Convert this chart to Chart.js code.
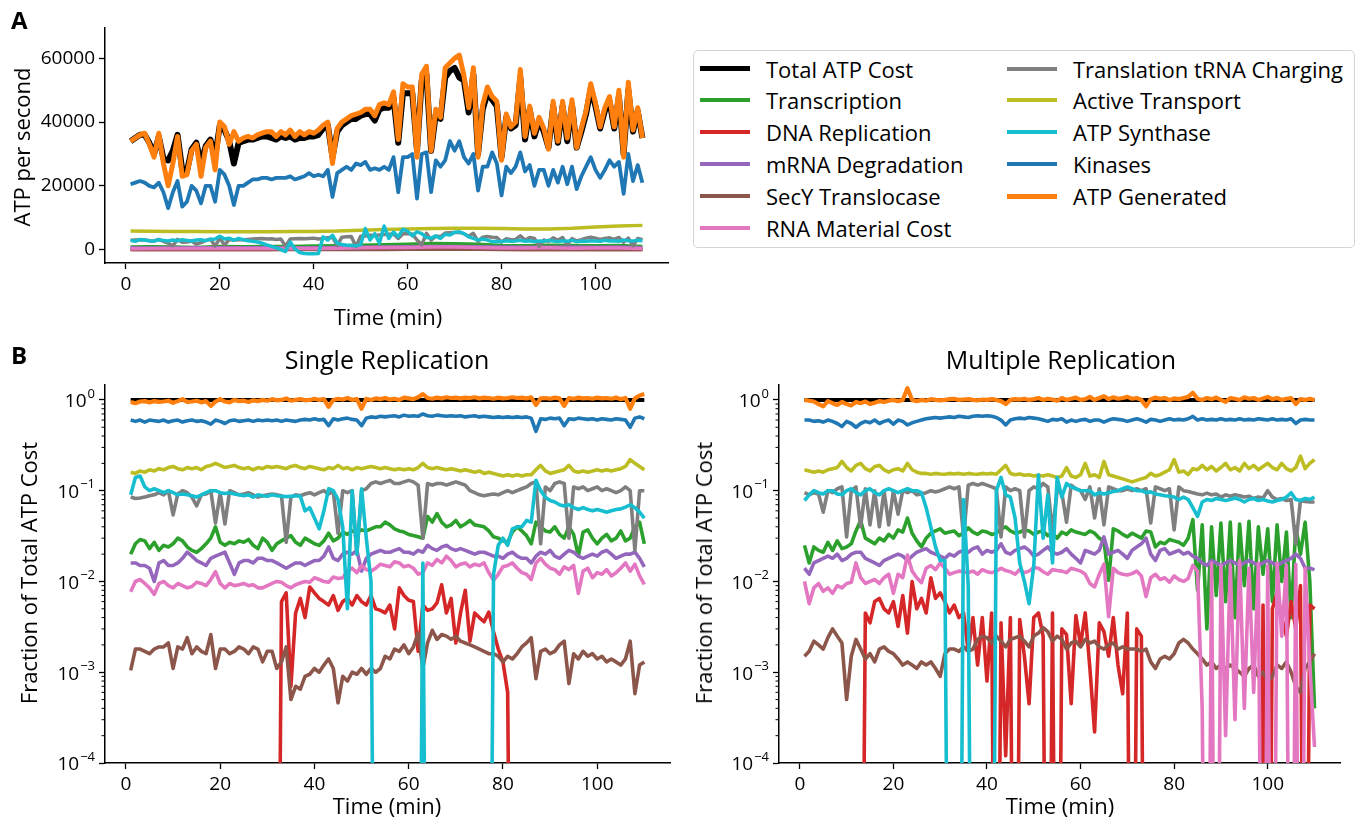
<!DOCTYPE html>
<html>
<head>
<meta charset="utf-8">
<title>ATP budget over the cell cycle</title>
<script src="https://cdn.jsdelivr.net/npm/chart.js@4.4.1/dist/chart.umd.min.js"></script>
<style>
  body { margin: 0; background: #fff; font-family: "Open Sans", sans-serif; color: #000; }
  #page { position: relative; width: 1360px; height: 833px; overflow: hidden; }
  canvas { position: absolute; }
  .txt { position: absolute; white-space: nowrap; transform: translate(-50%, -50%); font-size: 22px; }
  .vert { transform: translate(-50%, -50%) rotate(-90deg); }
  .title { font-size: 25px; }
  .panel { position: absolute; font-weight: bold; font-size: 24px; line-height: 1; }
  #legend { position: absolute; left: 693px; top: 50px; width: 662px; height: 198px;
            box-sizing: border-box; border: 1.5px solid #d4d4d4; border-radius: 5px; }
  .item { position: absolute; height: 32px; display: flex; align-items: center; font-size: 22px; white-space: nowrap; }
  .swatch { width: 50px; margin-right: 16px; }
</style>
</head>
<body>
<div id="page">
  <canvas id="chartA" width="680" height="330" style="left:0;top:0"></canvas>
  <canvas id="chartSingle" width="680" height="503" style="left:0;top:330px"></canvas>
  <canvas id="chartMultiple" width="680" height="503" style="left:680px;top:330px"></canvas>

  <div class="panel" style="left:11px;top:8px">A</div>
  <div class="panel" style="left:11px;top:343px">B</div>
  <div class="txt vert" style="left:21px;top:147px">ATP per second</div>
  <div class="txt" style="left:388px;top:316px">Time (min)</div>
  <div class="txt title" style="left:387px;top:359px">Single Replication</div>
  <div class="txt title" style="left:1061px;top:359px">Multiple Replication</div>
  <div class="txt vert" style="left:28px;top:573px">Fraction of Total ATP Cost</div>
  <div class="txt vert" style="left:703px;top:573px">Fraction of Total ATP Cost</div>
  <div class="txt" style="left:387px;top:805px">Time (min)</div>
  <div class="txt" style="left:1060px;top:805px">Time (min)</div>
  <div id="legend"></div>
</div>
<script>
// ---- series names and colours (legend order, last one drawn on top) ----
const categories = ['Total ATP Cost', 'Transcription', 'DNA Replication', 'mRNA Degradation',
  'SecY Translocase', 'RNA Material Cost', 'Translation tRNA Charging', 'Active Transport',
  'ATP Synthase', 'Kinases', 'ATP Generated'];
const colors = ['#000000', '#2ca02c', '#d62728', '#9467bd', '#8c564b', '#e377c2',
  '#7f7f7f', '#bcbd22', '#17becf', '#1f77b4', '#ff7f0e'];

// ---- tick positions ----
const timeTicks = [0, 20, 40, 60, 80, 100];
const atpTicks = [0, 20000, 40000, 60000];
const decadeTicks = [1e-4, 1e-3, 1e-2, 1e-1, 1];

// ---- time axes (min) ----
const timeA = Array.from({ length: 110 }, (_, i) => i + 1);
const timeACoarse = [1, 5, 10, 15, 20, 25, 30, 35, 40, 45, 50, 55, 60, 65, 70, 75, 80, 85, 90, 95, 100, 105, 110];
const timeB = timeA;
const timeEnds = [1, 110];

// ---- A: ATP per second ----
const aTotal = [
  34000, 35000, 36000, 36000, 33500, 30000, 35500, 28500, 28000, 31000,
  36000, 25000, 24500, 31500, 33500, 27000, 32500, 34500, 29000, 39000,
  37500, 34000, 27000, 33500, 34000, 34500, 34500, 35000, 35500, 35500,
  35000, 34500, 35500, 35000, 35500, 34500, 35000, 35000, 35500, 35500,
  36000, 38000, 39000, 29000, 37000, 39000, 40000, 41000, 41000, 42000,
  42500, 42500, 40500, 44000, 44500, 44500, 47500, 33500, 49000, 49000,
  49000, 31000, 53000, 55000, 31000, 42500, 41000, 54000, 56000, 57000,
  54000, 53000, 43000, 55000, 30000, 44000, 49000, 47000, 45000, 29000,
  41500, 38000, 39000, 54000, 34500, 44000, 35500, 40500, 37000, 32000,
  45000, 33500, 45000, 34000, 45500, 32000, 37000, 42500, 50500, 45000,
  38000, 43500, 46500, 38000, 48000, 30000, 50000, 37000, 43500, 35000];
const aGenerated = [
  34000, 35000, 36000, 36500, 33000, 29000, 36500, 27000, 20000, 27000,
  35500, 23000, 23500, 31000, 33000, 23000, 32000, 34000, 25000, 40000,
  38500, 33000, 37000, 34000, 35000, 35500, 35000, 36000, 36500, 37000,
  37000, 35500, 37000, 36000, 37500, 35500, 37000, 36000, 37000, 36500,
  37500, 39000, 40000, 27000, 38000, 40000, 41000, 42000, 42500, 43000,
  44000, 44000, 42000, 45500, 46000, 45500, 49500, 34500, 52000, 51000,
  51000, 29000, 55000, 57500, 31000, 44000, 41500, 57000, 58500, 60000,
  61000, 54500, 44500, 57000, 29000, 45500, 51000, 48000, 46500, 28000,
  42500, 38500, 40000, 56500, 35500, 45000, 36500, 41500, 38000, 31500,
  46500, 34000, 46500, 35000, 47000, 32000, 38000, 43500, 52000, 46000,
  38500, 44500, 48000, 38500, 50000, 29000, 52500, 37500, 44500, 35000];
const aKinases = [
  20500, 21000, 21500, 21000, 20000, 19500, 21000, 18000, 13000, 18000,
  21500, 13500, 15000, 20000, 18500, 14500, 20000, 20000, 15000, 25000,
  23500, 20000, 14000, 20000, 20000, 21000, 22000, 22000, 22500, 22500,
  22000, 22500, 22500, 22500, 23000, 22000, 22500, 23000, 24000, 23000,
  23500, 23000, 25000, 16500, 24000, 25000, 26000, 25000, 27000, 26500,
  27500, 25000, 25500, 25000, 26000, 25000, 29000, 18000, 29000, 29000,
  30000, 16000, 30000, 30500, 18000, 28000, 26000, 28000, 34000, 31000,
  34000, 29000, 27000, 30000, 18500, 26000, 26000, 30500, 27000, 17000,
  26000, 24000, 26000, 30500, 24500, 26500, 20000, 25000, 25000, 20000,
  25000, 21000, 26000, 20500, 26000, 19000, 23000, 26000, 29000, 25000,
  22500, 25000, 28000, 26000, 27500, 17500, 30000, 21500, 26500, 21000];
const aSynthase = [
  2900, 2600, 3200, 3000, 2800, 2700, 3100, 2900, 2700, 3000,
  2800, 3100, 2900, 2700, 3000, 3100, 2800, 3200, 3300, 4200,
  3300, 3600, 2900, 3500, 3100, 2800, 2600, 2400, 2000, 1500,
  1000, 600, 0, -600, 2400, 200, -900, -1200, -1300, -1300,
  -1200, 4000, 3000, 4500, 2000, 1600, 1400, 1300, 1200, 1500,
  6600, 3000, 5000, 2000, 7400, 3500, 5500, 4000, 6400, 5800,
  4300, 5600, 5000, 3800, 3600, 4300, 3500, 4800, 4600, 5400,
  5600, 5000, 4000, 3500, 3000, 3300, 3000, 2500, 2600, 2500,
  2800, 2600, 2700, 2900, 2600, 2800, 2500, 2700, 2600, 2900,
  2700, 2500, 2800, 2600, 2900, 2500, 2700, 2600, 2800, 2700,
  2600, 2900, 2700, 2800, 2600, 3000, 2800, 2700, 2900, 2800];
const aTranslation = [
  2900, 3000, 3100, 3000, 2800, 2700, 3200, 2600, 2000, 1200,
  3200, 2300, 2400, 2700, 1700, 2200, 2900, 3300, 1100, 3600,
  1400, 3200, 3000, 3100, 3100, 3200, 3300, 3400, 3500, 3300,
  3400, 3200, 3300, 1100, 3300, 3400, 3500, 3400, 3500, 3600,
  3300, 3500, 3700, 3900, 1300, 3900, 4000, 4100, 1000, 4200,
  4300, 4500, 4400, 4600, 4700, 4800, 4900, 3500, 5000, 5000,
  4900, 3000, 1500, 5100, 3000, 4200, 4100, 5200, 5300, 5400,
  5400, 5000, 4200, 5100, 2600, 3900, 4100, 3900, 3800, 2400,
  3400, 3100, 3200, 4300, 3000, 3800, 3500, 1000, 3000, 2600,
  3700, 2900, 3800, 1500, 3500, 2700, 3100, 3600, 3900, 3600,
  3200, 3500, 3700, 3200, 3800, 2300, 3600, 1200, 3500, 3100];
const aTransport = [5800, 5750, 5700, 5650, 5600, 5600, 5600, 5650, 5700, 5800, 6100, 6300,
  6500, 6600, 6700, 6700, 6600, 6500, 6500, 6700, 7100, 7400, 7600];
const aTranscription = [800, 900, 800, 700, 1000, 900, 950, 1000, 1100, 1200, 1400, 1500,
  1700, 1900, 1800, 1700, 1300, 1200, 1400, 1300, 1200, 1300, 1000];
const aReplication = [0, 0, 0, 0, 0, 0, 0, 150, 250, 200, 250, 200, 250, 250, 250, 200, 80,
  0, 0, 0, 0, 0, 0];
const aDegradation = [550, 500, 500, 550, 600, 550, 550, 600, 600, 650, 750, 850, 900, 950,
  1000, 900, 800, 750, 750, 800, 750, 800, 550];
const aSecY = [35, 60, 60, 60, 55, 60, 50, 50, 35, 30, 40, 60, 90, 100, 110, 90, 60, 55, 50,
  55, 60, 55, 45];
const aRnaMaterial = [260, 330, 330, 330, 350, 330, 330, 340, 380, 400, 550, 650, 700, 800,
  800, 700, 500, 500, 550, 450, 500, 500, 350];

// ---- B: fraction of total ATP cost, single replication ----
const fracTotal = [1, 1];
const sGenerated = [
  0.95, 0.92, 0.96, 0.97, 0.94, 0.97, 0.95, 0.96, 0.98, 0.93,
  0.97, 1.02, 0.95, 0.96, 0.98, 0.94, 0.97, 0.86, 0.96, 1.02,
  0.96, 0.94, 1.0, 0.97, 0.98, 0.95, 0.99, 0.97, 1.0, 0.98,
  1.02, 0.99, 1.0, 1.04, 0.98, 1.0, 1.02, 0.99, 1.0, 1.03,
  1.0, 1.02, 0.84, 1.0, 1.03, 1.01, 1.05, 1.0, 1.02, 0.8,
  1.03, 1.0, 1.04, 1.02, 1.05, 1.01, 1.03, 1.0, 1.06, 1.04,
  1.02, 1.07, 1.16, 1.05, 1.03, 1.06, 1.04, 1.07, 1.05, 1.06,
  1.04, 1.06, 1.05, 1.07, 1.04, 1.06, 1.05, 1.03, 1.06, 1.04,
  1.05, 1.07, 1.05, 1.06, 1.04, 1.07, 0.88, 1.04, 1.05, 1.03,
  1.06, 1.04, 0.86, 1.05, 1.03, 1.06, 1.04, 1.05, 1.03, 1.06,
  1.04, 1.05, 1.03, 1.06, 1.02, 1.05, 0.8, 1.04, 1.12, 1.16];
const sKinases = [
  0.6, 0.58, 0.6, 0.57, 0.6, 0.59, 0.58, 0.6, 0.57, 0.59,
  0.6, 0.57, 0.59, 0.6, 0.58, 0.59, 0.57, 0.54, 0.6, 0.58,
  0.55, 0.59, 0.6, 0.58, 0.59, 0.6, 0.58, 0.6, 0.59, 0.6,
  0.59, 0.6, 0.58, 0.6, 0.59, 0.58, 0.6, 0.61, 0.6, 0.62,
  0.6, 0.61, 0.52, 0.62, 0.6, 0.62, 0.63, 0.61, 0.6, 0.52,
  0.63, 0.65, 0.64, 0.66, 0.65, 0.66, 0.67, 0.65, 0.68, 0.66,
  0.67, 0.66, 0.7, 0.67, 0.66, 0.68, 0.67, 0.66, 0.67, 0.66,
  0.67, 0.65, 0.66, 0.67, 0.65, 0.66, 0.65, 0.64, 0.65, 0.64,
  0.65, 0.64, 0.65, 0.64, 0.65, 0.63, 0.45, 0.62, 0.61, 0.63,
  0.62, 0.63, 0.52, 0.62, 0.61, 0.63, 0.62, 0.61, 0.62, 0.6,
  0.62, 0.61, 0.6, 0.62, 0.61, 0.6, 0.5, 0.63, 0.65, 0.62];
const sTransport = [
  0.16, 0.155, 0.165, 0.16, 0.17, 0.165, 0.175, 0.17, 0.18, 0.185,
  0.175, 0.17, 0.18, 0.175, 0.18, 0.17, 0.185, 0.19, 0.2, 0.19,
  0.18, 0.185, 0.19, 0.18, 0.175, 0.18, 0.17, 0.18, 0.175, 0.185,
  0.18, 0.185, 0.18, 0.175, 0.185, 0.19, 0.18, 0.175, 0.185, 0.18,
  0.175, 0.17, 0.18, 0.175, 0.19, 0.175, 0.18, 0.17, 0.18, 0.175,
  0.18, 0.185, 0.18, 0.175, 0.18, 0.175, 0.17, 0.175, 0.17, 0.175,
  0.17, 0.18, 0.2, 0.18, 0.175, 0.18, 0.175, 0.17, 0.175, 0.17,
  0.165, 0.17, 0.165, 0.16, 0.165, 0.155, 0.16, 0.155, 0.15, 0.145,
  0.15, 0.145, 0.15, 0.145, 0.15, 0.15, 0.17, 0.19, 0.165, 0.155,
  0.16, 0.165, 0.17, 0.19, 0.165, 0.16, 0.165, 0.16, 0.165, 0.17,
  0.165, 0.17, 0.165, 0.17, 0.175, 0.185, 0.22, 0.2, 0.185, 0.17];
const sTranslation = [
  0.085, 0.082, 0.083, 0.085, 0.088, 0.09, 0.095, 0.09, 0.1, 0.054,
  0.092, 0.1, 0.095, 0.085, 0.068, 0.09, 0.092, 0.1, 0.044, 0.095,
  0.043, 0.1, 0.095, 0.09, 0.092, 0.095, 0.09, 0.085, 0.088, 0.09,
  0.092, 0.09, 0.088, 0.027, 0.085, 0.09, 0.088, 0.092, 0.095, 0.09,
  0.095, 0.1, 0.092, 0.098, 0.034, 0.1, 0.095, 0.1, 0.02, 0.1,
  0.105, 0.12, 0.125, 0.12, 0.125, 0.13, 0.12, 0.12, 0.125, 0.13,
  0.125, 0.115, 0.03, 0.12, 0.115, 0.12, 0.12, 0.115, 0.12, 0.125,
  0.12, 0.115, 0.1, 0.095, 0.09, 0.088, 0.09, 0.092, 0.09, 0.095,
  0.1, 0.095, 0.1, 0.105, 0.11, 0.12, 0.125, 0.026, 0.11, 0.1,
  0.12, 0.125, 0.12, 0.03, 0.11, 0.105, 0.11, 0.1, 0.105, 0.11,
  0.1, 0.105, 0.1, 0.095, 0.1, 0.11, 0.1, 0.022, 0.1, 0.1];
const sSynthase = [
  0.09, 0.14, 0.145, 0.11, 0.1, 0.105, 0.1, 0.095, 0.1, 0.095,
  0.09, 0.092, 0.09, 0.088, 0.085, 0.09, 0.095, 0.1, 0.1, 0.095,
  0.093, 0.095, 0.092, 0.09, 0.088, 0.09, 0.085, 0.09, 0.088, 0.087,
  0.09, 0.088, 0.087, 0.086, 0.087, 0.088, 0.087, 0.06, 0.065, 0.05,
  0.038, 0.06, 0.105, 0.1, 0.08, 0.04, 0.005, 0.1, 0.02, 0.105,
  0.03, 0.01, 0, 0, 0, 0, 0, 0, 0, 0,
  0, 0, 0.016, 0, 0, 0, 0, 0, 0, 0,
  0, 0, 0, 0, 0, 0, 0, 0.012, 0.025, 0.03,
  0.025, 0.038, 0.04, 0.04, 0.047, 0.045, 0.13, 0.1, 0.085, 0.078,
  0.075, 0.07, 0.068, 0.07, 0.065, 0.062, 0.065, 0.062, 0.06, 0.062,
  0.06, 0.058, 0.06, 0.062, 0.063, 0.066, 0.07, 0.065, 0.058, 0.05];
const sTranscription = [
  0.02, 0.026, 0.029, 0.028, 0.023, 0.027, 0.022, 0.025, 0.024, 0.026,
  0.03, 0.028, 0.024, 0.022, 0.021, 0.023, 0.026, 0.03, 0.04, 0.027,
  0.025, 0.027, 0.026, 0.028, 0.027, 0.029, 0.025, 0.023, 0.03, 0.027,
  0.022, 0.026, 0.028, 0.03, 0.032, 0.027, 0.025, 0.03, 0.028, 0.026,
  0.025, 0.028, 0.034, 0.028, 0.03, 0.035, 0.033, 0.036, 0.035, 0.037,
  0.036, 0.038, 0.04, 0.04, 0.045, 0.042, 0.038, 0.036, 0.035, 0.033,
  0.032, 0.031, 0.03, 0.052, 0.045, 0.056, 0.045, 0.04, 0.042, 0.047,
  0.04, 0.043, 0.047, 0.042, 0.041, 0.04, 0.036, 0.031, 0.03, 0.028,
  0.027, 0.035, 0.04, 0.036, 0.032, 0.026, 0.045, 0.04, 0.036, 0.035,
  0.04, 0.033, 0.03, 0.04, 0.033, 0.019, 0.035, 0.037, 0.03, 0.026,
  0.03, 0.033, 0.028, 0.03, 0.036, 0.028, 0.03, 0.04, 0.045, 0.026];
const sDegradation = [
  0.016, 0.016, 0.015, 0.015, 0.014, 0.01, 0.016, 0.017, 0.015, 0.015,
  0.016, 0.018, 0.021, 0.019, 0.017, 0.016, 0.015, 0.018, 0.019, 0.02,
  0.021, 0.016, 0.012, 0.016, 0.017, 0.017, 0.016, 0.018, 0.018, 0.017,
  0.017, 0.016, 0.015, 0.014, 0.015, 0.016, 0.016, 0.015, 0.016, 0.017,
  0.017, 0.019, 0.024, 0.018, 0.017, 0.02, 0.021, 0.02, 0.022, 0.013,
  0.018, 0.02, 0.021, 0.022, 0.021, 0.021, 0.022, 0.023, 0.021, 0.021,
  0.02, 0.022, 0.021, 0.025, 0.023, 0.022, 0.024, 0.025, 0.023, 0.022,
  0.023, 0.022, 0.021, 0.02, 0.021, 0.021, 0.02, 0.019, 0.019, 0.018,
  0.02, 0.021, 0.019, 0.018, 0.018, 0.016, 0.019, 0.021, 0.02, 0.022,
  0.019, 0.018, 0.02, 0.022, 0.021, 0.019, 0.018, 0.019, 0.02, 0.019,
  0.021, 0.022, 0.02, 0.018, 0.019, 0.02, 0.02, 0.021, 0.018, 0.0145];
const sRnaMaterial = [
  0.0077, 0.01, 0.0105, 0.0095, 0.0085, 0.0072, 0.0095, 0.01, 0.009, 0.0085,
  0.0095, 0.009, 0.0085, 0.0088, 0.0098, 0.0095, 0.009, 0.0105, 0.0128, 0.0095,
  0.0085, 0.0095, 0.009, 0.0092, 0.0095, 0.009, 0.0092, 0.0085, 0.0085, 0.009,
  0.0095, 0.01, 0.0098, 0.009, 0.0085, 0.0092, 0.0096, 0.01, 0.0098, 0.011,
  0.0105, 0.01, 0.0098, 0.0112, 0.0108, 0.011, 0.013, 0.014, 0.0125, 0.015,
  0.0135, 0.013, 0.014, 0.0155, 0.015, 0.0145, 0.0165, 0.016, 0.0145, 0.015,
  0.014, 0.012, 0.0125, 0.016, 0.015, 0.0175, 0.016, 0.019, 0.017, 0.0145,
  0.0155, 0.016, 0.0145, 0.0155, 0.015, 0.016, 0.0125, 0.0103, 0.012, 0.0145,
  0.015, 0.016, 0.014, 0.0125, 0.012, 0.0105, 0.016, 0.018, 0.0155, 0.014,
  0.0135, 0.012, 0.0145, 0.0135, 0.015, 0.0074, 0.013, 0.014, 0.011, 0.0125,
  0.012, 0.0135, 0.0115, 0.0125, 0.014, 0.016, 0.013, 0.0155, 0.0115, 0.0093];
const sReplication = [
  0, 0, 0, 0, 0, 0, 0, 0, 0, 0,
  0, 0, 0, 0, 0, 0, 0, 0, 0, 0,
  0, 0, 0, 0, 0, 0, 0, 0, 0, 0,
  0, 0, 0.006, 0.0075, 0.0007, 0.0045, 0.0065, 0.004, 0.0087, 0.0075,
  0.0065, 0.006, 0.0055, 0.007, 0.0048, 0.006, 0.0065, 0.0055, 0.007, 0.006,
  0.0055, 0.007, 0.005, 0.0048, 0.0045, 0.0055, 0.003, 0.0085, 0.007, 0.0062,
  0.006, 0.0017, 0.0055, 0.0048, 0.005, 0.0058, 0.0092, 0.0045, 0.0065, 0.0021,
  0.0045, 0.008, 0.0022, 0.0045, 0.004, 0.0036, 0.0046, 0.0028, 0.0018, 0.0013,
  0.0006, 0, 0, 0, 0, 0, 0, 0, 0, 0,
  0, 0, 0, 0, 0, 0, 0, 0, 0, 0,
  0, 0, 0, 0, 0, 0, 0, 0, 0, 0];
const sSecY = [
  0.00105, 0.0018, 0.0018, 0.0017, 0.0016, 0.0018, 0.0019, 0.0019, 0.0021, 0.0011,
  0.0019, 0.0018, 0.0024, 0.0016, 0.0019, 0.0017, 0.0016, 0.0026, 0.0011, 0.0018,
  0.0018, 0.0016, 0.0017, 0.0019, 0.0018, 0.0016, 0.0019, 0.0018, 0.0013, 0.0017,
  0.0017, 0.0011, 0.0013, 0.0019, 0.0005, 0.0007, 0.00065, 0.0009, 0.00095, 0.0011,
  0.001, 0.0012, 0.0014, 0.0011, 0.00046, 0.0009, 0.0008, 0.001, 0.00095, 0.0011,
  0.00095, 0.0011, 0.001, 0.0011, 0.0015, 0.0014, 0.0018, 0.0017, 0.002, 0.0016,
  0.0019, 0.0027, 0.0011, 0.0021, 0.0029, 0.0023, 0.0026, 0.0025, 0.0023, 0.0025,
  0.0022, 0.0021, 0.002, 0.0019, 0.0018, 0.0017, 0.0016, 0.0016, 0.0015, 0.0013,
  0.0015, 0.0014, 0.0016, 0.0019, 0.0021, 0.0024, 0.00085, 0.0017, 0.0018, 0.0016,
  0.0017, 0.002, 0.0022, 0.00075, 0.0016, 0.0014, 0.0017, 0.0015, 0.0016, 0.0014,
  0.0015, 0.0013, 0.0014, 0.0013, 0.0012, 0.0014, 0.0022, 0.00058, 0.0012, 0.0013];

// ---- B: fraction of total ATP cost, multiple replication ----
const mGenerated = [
  1.0, 0.98, 0.96, 0.9, 0.85, 0.97, 0.92, 0.88, 0.95, 0.9,
  0.87, 0.95, 0.92, 0.96, 0.9, 0.93, 0.97, 0.95, 0.98, 1.0,
  0.97, 1.0, 1.35, 1.0, 0.97, 1.0, 0.98, 1.02, 1.0, 0.99,
  1.0, 1.02, 1.03, 1.0, 1.01, 1.02, 1.0, 0.99, 1.01, 1.0,
  1.02, 1.0, 0.97, 0.9, 1.0, 1.02, 1.01, 1.03, 1.0, 1.02,
  1.05, 1.0, 1.03, 1.01, 0.98, 1.05, 1.0, 1.03, 1.06, 1.0,
  1.02, 1.08, 1.0, 1.05, 1.1, 1.02, 1.07, 1.03, 1.05, 1.08,
  1.03, 1.05, 1.0, 0.85, 1.02, 1.06, 1.03, 1.05, 1.0, 1.04,
  1.02, 1.05, 1.08, 1.2, 1.03, 1.0, 1.05, 1.02, 1.06, 1.0,
  0.95, 1.05, 1.03, 1.0, 1.07, 1.03, 1.05, 1.0, 1.04, 1.08,
  1.02, 1.05, 1.0, 1.03, 1.05, 0.9, 1.02, 1.0, 1.03, 1.0];
const mKinases = [
  0.6, 0.6, 0.58, 0.59, 0.57, 0.6, 0.58, 0.55, 0.51, 0.58,
  0.55, 0.5, 0.55, 0.58, 0.56, 0.6, 0.55, 0.58, 0.6, 0.54,
  0.6, 0.58, 0.53, 0.56, 0.58, 0.6, 0.62, 0.63, 0.64, 0.63,
  0.64, 0.65, 0.64, 0.66, 0.65, 0.64, 0.66, 0.67, 0.66, 0.67,
  0.66, 0.64, 0.6, 0.53, 0.6, 0.62, 0.63, 0.62, 0.64, 0.63,
  0.62, 0.6, 0.58, 0.61, 0.6, 0.62, 0.57, 0.6, 0.58, 0.6,
  0.61, 0.58, 0.6, 0.6, 0.57, 0.6, 0.62, 0.61, 0.6, 0.58,
  0.6, 0.62, 0.6, 0.57, 0.61, 0.6, 0.58, 0.6, 0.62, 0.6,
  0.61, 0.6, 0.62, 0.66, 0.6, 0.62, 0.6, 0.61, 0.6, 0.62,
  0.6, 0.61, 0.6, 0.62, 0.6, 0.61, 0.6, 0.62, 0.61, 0.6,
  0.62, 0.6, 0.61, 0.6, 0.62, 0.55, 0.6, 0.61, 0.6, 0.6];
const mTransport = [
  0.17, 0.165, 0.16, 0.165, 0.16, 0.17, 0.175, 0.18, 0.21, 0.18,
  0.165, 0.19, 0.2, 0.175, 0.165, 0.185, 0.19, 0.17, 0.16, 0.17,
  0.175, 0.165, 0.2, 0.17, 0.16, 0.155, 0.155, 0.152, 0.155, 0.153,
  0.152, 0.155, 0.153, 0.155, 0.152, 0.155, 0.153, 0.152, 0.155, 0.153,
  0.155, 0.152, 0.17, 0.19, 0.155, 0.15, 0.153, 0.148, 0.15, 0.145,
  0.148, 0.145, 0.15, 0.145, 0.14, 0.145, 0.18, 0.145, 0.14, 0.15,
  0.2, 0.145, 0.15, 0.14, 0.21, 0.15, 0.145, 0.14, 0.135, 0.13,
  0.125, 0.13, 0.135, 0.14, 0.155, 0.145, 0.15, 0.16, 0.17, 0.22,
  0.16, 0.165, 0.15, 0.175, 0.17, 0.19, 0.17, 0.185, 0.165, 0.18,
  0.2, 0.17, 0.18, 0.165, 0.2, 0.175, 0.19, 0.17, 0.185, 0.2,
  0.18, 0.17, 0.2, 0.175, 0.165, 0.18, 0.24, 0.175, 0.2, 0.22];
const mTranslation = [
  0.095, 0.09, 0.095, 0.092, 0.058, 0.1, 0.095, 0.105, 0.11, 0.031,
  0.1, 0.11, 0.04, 0.105, 0.042, 0.1, 0.04, 0.1, 0.042, 0.1,
  0.055, 0.1, 0.095, 0.1, 0.09, 0.092, 0.095, 0.1, 0.097, 0.1,
  0.105, 0.11, 0.105, 0.11, 0.031, 0.115, 0.12, 0.115, 0.12, 0.115,
  0.11, 0.105, 0.031, 0.11, 0.1, 0.105, 0.1, 0.031, 0.1, 0.11,
  0.105, 0.12, 0.11, 0.035, 0.1, 0.095, 0.045, 0.115, 0.105, 0.1,
  0.08, 0.11, 0.05, 0.105, 0.042, 0.11, 0.105, 0.1, 0.1, 0.105,
  0.1, 0.105, 0.1, 0.105, 0.044, 0.11, 0.105, 0.1, 0.105, 0.037,
  0.11, 0.1, 0.098, 0.095, 0.092, 0.09, 0.094, 0.09, 0.092, 0.085,
  0.09, 0.087, 0.09, 0.088, 0.085, 0.087, 0.082, 0.085, 0.083, 0.1,
  0.085, 0.08, 0.082, 0.078, 0.08, 0.026, 0.078, 0.076, 0.075, 0.075];
const mSynthase = [
  0.078, 0.09, 0.1, 0.095, 0.092, 0.1, 0.1, 0.092, 0.09, 0.1,
  0.105, 0.095, 0.09, 0.1, 0.105, 0.095, 0.09, 0.1, 0.105, 0.1,
  0.095, 0.1, 0.105, 0.1, 0.1, 0.095, 0.065, 0.04, 0.024, 0.017,
  0.017, 0, 0, 0, 0.08, 0.0088, 0, 0, 0, 0,
  0, 0.1, 0.14, 0.09, 0.085, 0.05, 0.016, 0.01, 0.0057, 0.015,
  0.15, 0.03, 0.09, 0.016, 0.14, 0.085, 0.12, 0.11, 0.105, 0.1,
  0.1, 0.1, 0.09, 0.095, 0.092, 0.095, 0.098, 0.1, 0.105, 0.11,
  0.105, 0.1, 0.1, 0.095, 0.097, 0.092, 0.09, 0.088, 0.087, 0.085,
  0.08, 0.085, 0.08, 0.065, 0.052, 0.075, 0.08, 0.078, 0.082, 0.08,
  0.078, 0.08, 0.083, 0.08, 0.075, 0.08, 0.082, 0.078, 0.08, 0.077,
  0.075, 0.078, 0.08, 0.085, 0.095, 0.08, 0.078, 0.082, 0.08, 0.085];
const mTranscription = [
  0.025, 0.016, 0.024, 0.022, 0.021, 0.027, 0.022, 0.028, 0.023, 0.024,
  0.026, 0.036, 0.047, 0.03, 0.028, 0.026, 0.03, 0.028, 0.033, 0.03,
  0.037, 0.035, 0.05, 0.034, 0.028, 0.024, 0.03, 0.034, 0.036, 0.038,
  0.034, 0.035, 0.036, 0.032, 0.034, 0.039, 0.035, 0.033, 0.036, 0.035,
  0.033, 0.034, 0.038, 0.04, 0.036, 0.034, 0.035, 0.037, 0.036, 0.033,
  0.035, 0.036, 0.032, 0.034, 0.03, 0.035, 0.033, 0.037, 0.035, 0.034,
  0.033, 0.036, 0.034, 0.03, 0.028, 0.0103, 0.038, 0.036, 0.033, 0.031,
  0.034, 0.032, 0.03, 0.036, 0.035, 0.024, 0.027, 0.026, 0.029, 0.028,
  0.027, 0.025, 0.03, 0.048, 0.008, 0.042, 0.003, 0.04, 0.007, 0.044,
  0.006, 0.045, 0.004, 0.043, 0.009, 0.046, 0.005, 0.04, 0.012, 0.038,
  0.006, 0.042, 0.01, 0.035, 0.004, 0.04, 0.02, 0.045, 0.01, 0.0004];
const mDegradation = [
  0.014, 0.012, 0.016, 0.017, 0.018, 0.019, 0.018, 0.02, 0.017, 0.018,
  0.02, 0.021, 0.021, 0.018, 0.017, 0.016, 0.015, 0.017, 0.018, 0.019,
  0.02, 0.019, 0.017, 0.019, 0.021, 0.022, 0.023, 0.021, 0.02, 0.019,
  0.018, 0.02, 0.019, 0.021, 0.022, 0.021, 0.023, 0.024, 0.02, 0.022,
  0.021, 0.022, 0.026, 0.021, 0.02, 0.022, 0.023, 0.024, 0.022, 0.019,
  0.02, 0.022, 0.024, 0.021, 0.02, 0.021, 0.023, 0.02, 0.018, 0.016,
  0.022, 0.021, 0.02, 0.022, 0.031, 0.02, 0.021, 0.022, 0.02, 0.018,
  0.022, 0.024, 0.026, 0.03, 0.02, 0.017, 0.022, 0.023, 0.02, 0.021,
  0.022, 0.02, 0.021, 0.019, 0.018, 0.016, 0.015, 0.017, 0.016, 0.015,
  0.016, 0.017, 0.016, 0.015, 0.016, 0.017, 0.016, 0.015, 0.016, 0.017,
  0.016, 0.015, 0.016, 0.017, 0.018, 0.02, 0.018, 0.014, 0.014, 0.0135];
const mRnaMaterial = [
  0.01, 0.0057, 0.0085, 0.0095, 0.0078, 0.0085, 0.0074, 0.009, 0.0085, 0.0095,
  0.0098, 0.016, 0.011, 0.0095, 0.01, 0.0105, 0.0095, 0.011, 0.012, 0.0074,
  0.012, 0.011, 0.0195, 0.013, 0.011, 0.0097, 0.014, 0.015, 0.0135, 0.016,
  0.014, 0.012, 0.0125, 0.013, 0.0128, 0.0125, 0.013, 0.012, 0.0135, 0.0128,
  0.0125, 0.013, 0.014, 0.0132, 0.0128, 0.012, 0.0135, 0.0125, 0.013, 0.0142,
  0.014, 0.0128, 0.012, 0.0135, 0.0132, 0.013, 0.0125, 0.014, 0.0135, 0.013,
  0.012, 0.0095, 0.0087, 0.012, 0.0155, 0.0041, 0.014, 0.0125, 0.012, 0.0118,
  0.0122, 0.013, 0.0115, 0.0068, 0.011, 0.012, 0.0105, 0.011, 0.0098, 0.0115,
  0.0105, 0.01, 0.0108, 0.015, 0.013, 0.0004, 0, 0.016, 0, 0.015,
  0.0002, 0.015, 0.0003, 0.017, 0.0004, 0.014, 0.0006, 0.016, 0, 0.015,
  0, 0.016, 0.0025, 0.015, 0, 0.0155, 0, 0.014, 0.0012, 0.00015];
const mReplication = [
  0, 0, 0, 0, 0, 0, 0, 0, 0, 0,
  0, 0, 0, 0.0045, 0.0035, 0.006, 0.0065, 0.005, 0.0045, 0.006,
  0.0032, 0.007, 0.0027, 0.01, 0.005, 0.0065, 0.0045, 0.011, 0.0065, 0.0075,
  0.006, 0.0045, 0.0055, 0.004, 0.0045, 0.0017, 0.004, 0.0012, 0.004, 0.0008,
  0.0045, 0, 0.0035, 0.00012, 0.004, 0, 0.0038, 0.0015, 0.00045, 0.004,
  0.0045, 0.0025, 0, 0.0045, 0, 0.003, 0.0026, 0.00045, 0.0042, 0.002,
  0.0045, 0.0011, 0.00022, 0.0035, 0.0028, 0.0015, 0.004, 0.0012, 0.00058, 0.0045,
  0, 0.003, 0.0025, 0, 0, 0, 0, 0, 0, 0,
  0, 0, 0, 0, 0, 0, 0, 0, 0, 0,
  0, 0, 0, 0, 0, 0, 0, 0, 0.0055, 0,
  0.005, 0.0075, 0.004, 0.0025, 0.006, 0.003, 0.009, 0, 0.0055, 0.005];
const mSecY = [
  0.0015, 0.0017, 0.0022, 0.002, 0.0018, 0.0024, 0.003, 0.0025, 0.0021, 0.0005,
  0.0015, 0.0023, 0.0018, 0.0014, 0.0016, 0.0013, 0.0018, 0.0019, 0.0017, 0.0016,
  0.0014, 0.0012, 0.0013, 0.0012, 0.0011, 0.0013, 0.0012, 0.0013, 0.0011, 0.0009,
  0.0016, 0.0018, 0.0018, 0.0017, 0.0019, 0.0017, 0.0018, 0.0023, 0.0025, 0.0024,
  0.0021, 0.0025, 0.0022, 0.0019, 0.0023, 0.0024, 0.0025, 0.0022, 0.0019, 0.0025,
  0.0027, 0.0031, 0.0028, 0.0022, 0.0025, 0.0023, 0.0018, 0.0021, 0.0022, 0.0019,
  0.0023, 0.0021, 0.0022, 0.0019, 0.0018, 0.002, 0.0021, 0.0018, 0.0019, 0.0018,
  0.0018, 0.0018, 0.0017, 0.0018, 0.0013, 0.0011, 0.0014, 0.0015, 0.0014, 0.0016,
  0.0021, 0.0023, 0.0021, 0.0018, 0.0016, 0.0014, 0.0012, 0.0013, 0.0011, 0.0012,
  0.0011, 0.0012, 0.0011, 0.001, 0.0009, 0.0011, 0.0012, 0.0009, 0.001, 0.0008,
  0.0009, 0.0012, 0.0011, 0.0013, 0.001, 0.0007, 0.0006, 0.0011, 0.0013, 0.0016];

// [times, values] per category, in legend order
const panelA = [[timeA, aTotal], [timeACoarse, aTranscription], [timeACoarse, aReplication],
  [timeACoarse, aDegradation], [timeACoarse, aSecY], [timeACoarse, aRnaMaterial],
  [timeA, aTranslation], [timeACoarse, aTransport], [timeA, aSynthase], [timeA, aKinases],
  [timeA, aGenerated]];
const panelSingle = [[timeEnds, fracTotal], [timeB, sTranscription], [timeB, sReplication],
  [timeB, sDegradation], [timeB, sSecY], [timeB, sRnaMaterial], [timeB, sTranslation],
  [timeB, sTransport], [timeB, sSynthase], [timeB, sKinases], [timeB, sGenerated]];
const panelMultiple = [[timeEnds, fracTotal], [timeB, mTranscription], [timeB, mReplication],
  [timeB, mDegradation], [timeB, mSecY], [timeB, mRnaMaterial], [timeB, mTranslation],
  [timeB, mTransport], [timeB, mSynthase], [timeB, mKinases], [timeB, mGenerated]];

Chart.defaults.font.family = '"Open Sans", sans-serif';
Chart.defaults.font.size = 19;
Chart.defaults.color = '#000';

const TICK = 6;

function makeDatasets(panel, widths, logScale) {
  return panel.map(([times, values], i) => ({
    label: categories[i],
    // zeros can't sit on a log axis: push them far below so the line drops off the plot
    data: times.map((t, k) => ({ x: t, y: logScale && !(values[k] > 0) ? 1e-9 : values[k] })),
    borderColor: colors[i],
    backgroundColor: colors[i],
    borderWidth: widths[i],
    borderJoinStyle: 'round',
    pointRadius: 0,
    tension: 0,
    fill: false,
    clip: 0,
    order: categories.length - 1 - i
  }));
}

const fixedTicks = values => s => { s.ticks = values.map(v => ({ value: v })); };

function xAxis(height) {
  return {
    type: 'linear', min: -4.45, max: 115.45,
    afterBuildTicks: fixedTicks(timeTicks),
    ticks: { autoSkip: false, maxRotation: 0, padding: 4, callback: v => String(v) },
    grid: { drawOnChartArea: false, tickLength: TICK, tickColor: '#000', tickWidth: 1.3 },
    border: { color: '#000', width: 1.5 },
    afterFit: s => { s.height = height; }
  };
}

// "10" with a raised exponent, plus short minor ticks, for the log axes
const logLabels = {
  id: 'logLabels',
  afterDraw(chart) {
    const s = chart.scales.y;
    const ctx = chart.ctx;
    const right = s.right - TICK - 4;
    ctx.save();
    ctx.fillStyle = '#000';
    ctx.strokeStyle = '#000';
    ctx.lineWidth = 1;
    ctx.textAlign = 'right';
    ctx.textBaseline = 'middle';
    s.ticks.forEach(t => {
      const y = s.getPixelForValue(t.value);
      if (!t.major) {
        ctx.beginPath();
        ctx.moveTo(s.right, y);
        ctx.lineTo(s.right - 3.5, y);
        ctx.stroke();
        return;
      }
      const exp = Math.round(Math.log10(t.value));
      const expText = exp < 0 ? '\u2212' + (-exp) : String(exp);
      ctx.font = '13px "Open Sans"';
      const w = ctx.measureText(expText).width;
      ctx.fillText(expText, right, y - 6);
      ctx.font = '19px "Open Sans"';
      ctx.fillText('10', right - w - 1, y + 2);
    });
    ctx.restore();
  }
};

function logAxis(width) {
  return {
    type: 'logarithmic', min: 1e-4, max: 1.46,
    afterBuildTicks: s => {
      const ticks = [];
      decadeTicks.forEach((d, i) => {
        ticks.push({ value: d, major: true });
        if (i < decadeTicks.length - 1) {
          for (let m = 2; m <= 9; m++) ticks.push({ value: d * m, major: false });
        }
      });
      s.ticks = ticks;
    },
    ticks: { autoSkip: false, padding: 4, callback: () => '' },
    grid: {
      drawOnChartArea: false, tickLength: TICK, tickWidth: 1.3,
      tickColor: c => (c.tick && c.tick.major ? '#000' : 'rgba(0,0,0,0)')
    },
    border: { color: '#000', width: 1.5 },
    afterFit: s => { s.width = width; }
  };
}

const baseOptions = (padding, scales) => ({
  responsive: false,
  animation: false,
  devicePixelRatio: 1,
  layout: { padding },
  plugins: { legend: { display: false }, tooltip: { enabled: false } },
  scales
});

// A: absolute ATP flux
new Chart(document.getElementById('chartA'), {
  type: 'line',
  data: { datasets: makeDatasets(panelA, [6, 3.5, 3.5, 3.5, 3.5, 3.5, 3.5, 3.5, 3.5, 3.8, 5], false) },
  options: baseOptions({ top: 28, right: 12, left: 0, bottom: 0 }, {
    x: xAxis(67),
    y: {
      type: 'linear', min: -4200, max: 69500,
      afterBuildTicks: fixedTicks(atpTicks),
      ticks: { autoSkip: false, padding: 4, callback: v => String(v) },
      grid: { drawOnChartArea: false, tickLength: TICK, tickColor: '#000', tickWidth: 1.3 },
      border: { color: '#000', width: 1.5 },
      afterFit: s => { s.width = 105; }
    }
  })
});

const widthsB = [4, 3.6, 3.6, 3.6, 3.6, 3.6, 3.6, 3.6, 3.6, 3.6, 4.2];

new Chart(document.getElementById('chartSingle'), {
  type: 'line',
  data: { datasets: makeDatasets(panelSingle, widthsB, true) },
  options: baseOptions({ top: 55, right: 10, left: 0, bottom: 0 }, { x: xAxis(70), y: logAxis(105) }),
  plugins: [logLabels]
});

new Chart(document.getElementById('chartMultiple'), {
  type: 'line',
  data: { datasets: makeDatasets(panelMultiple, widthsB, true) },
  options: baseOptions({ top: 55, right: 20, left: 0, bottom: 0 }, { x: xAxis(70), y: logAxis(99) }),
  plugins: [logLabels]
});

// shared legend, two columns
const legend = document.getElementById('legend');
categories.forEach((name, i) => {
  const col = i < 6 ? 0 : 1;
  const row = i < 6 ? i : i - 6;
  const item = document.createElement('div');
  item.className = 'item';
  item.style.left = (col === 0 ? 6 : 313) + 'px';
  item.style.top = (1.5 + row * 31.9) + 'px';
  const sw = document.createElement('div');
  sw.className = 'swatch';
  sw.style.height = (i === 0 || i === 10 ? 5 : 4) + 'px';
  sw.style.background = colors[i];
  const label = document.createElement('span');
  label.textContent = name;
  item.appendChild(sw);
  item.appendChild(label);
  legend.appendChild(item);
});
</script>
</body>
</html>
